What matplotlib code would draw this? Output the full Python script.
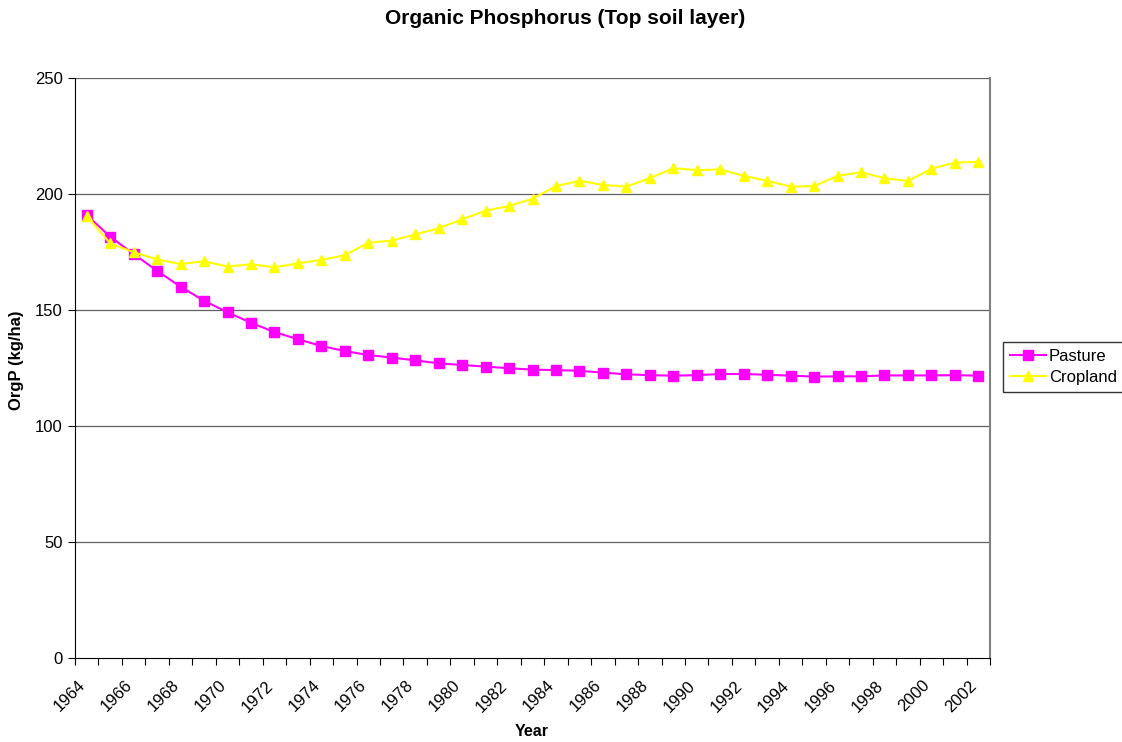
import matplotlib
matplotlib.use("Agg")
import matplotlib.pyplot as plt
import matplotlib.transforms as mtransforms
import numpy as np

years = list(range(1964, 2003))
pasture = [190.9, 181.6, 174.1, 166.9, 160.0, 154.0, 149.0, 144.5, 140.5, 137.4,
           134.5, 132.3, 130.6, 129.5, 128.3, 127.0, 126.3, 125.6, 124.9, 124.3,
           124.1, 123.8, 123.0, 122.3, 121.9, 121.7, 121.9, 122.4, 122.4, 122.1,
           121.7, 121.3, 121.4, 121.4, 121.8, 121.8, 121.8, 121.9, 121.7]
cropland = [190.5, 178.7, 174.9, 171.8, 169.8, 171.0, 168.7, 169.7, 168.4, 170.1,
            171.6, 173.6, 179.0, 179.9, 182.6, 185.2, 189.1, 192.8, 194.8, 198.0,
            203.4, 205.7, 203.9, 203.2, 206.8, 211.1, 210.3, 210.6, 207.8, 205.7,
            203.2, 203.4, 207.8, 209.4, 206.8, 205.6, 210.9, 213.5, 213.9]
yticks = [0, 50, 100, 150, 200, 250]

plt.rcParams['font.family'] = ['Liberation Sans', 'DejaVu Sans']

W, H = 1122, 742
fig = plt.figure(figsize=(W / 100, H / 100), dpi=100)
ax = fig.add_axes([75 / W, 1 - 658 / H, (990 - 75) / W, (658 - 78) / H])

x = np.arange(len(years))
ax.plot(x, pasture, color='#FF00FF', marker='s', markersize=6.8, lw=1.5,
        label='Pasture', zorder=3, clip_on=False)
ax.plot(x, cropland, color='#FFFF00', marker='^', markersize=7.8, lw=1.5,
        label='Cropland', zorder=3, clip_on=False)

ax.set_xlim(-0.5, len(years) - 0.5)
ax.set_ylim(0, 250)
ax.set_yticks(yticks)
ax.set_yticklabels([str(v) for v in yticks], fontsize=12)
for v in yticks[1:]:
    ax.axhline(v, color='#606060', lw=0.9, zorder=1)

ax.set_xticks(np.arange(-0.5, len(years)), minor=False)
ax.set_xticklabels([])
ax.set_xticks(x[::2], minor=True)
ax.set_xticklabels([str(y) for y in years[::2]], minor=True, fontsize=12,
                   rotation=45, ha='right', va='center', rotation_mode='anchor')
ax.tick_params(axis='x', which='minor', length=0, pad=18)
ax.tick_params(axis='x', which='major', length=5, direction='out', color='black')
ax.tick_params(axis='y', length=5, direction='out', color='black', pad=4)
off = mtransforms.ScaledTranslation(-4 / 100, 0, fig.dpi_scale_trans)
for lbl in ax.get_xticklabels(minor=True):
    lbl.set_transform(lbl.get_transform() + off)

ax.spines['top'].set_visible(False)
ax.spines['right'].set_color('#808080')
ax.spines['right'].set_linewidth(1.5)
ax.spines['left'].set_color('black')
ax.spines['bottom'].set_color('black')

fig.text(565 / W, 1 - 18 / H, 'Organic Phosphorus (Top soil layer)', ha='center',
         va='center', fontsize=15, fontweight='bold')
fig.text(532 / W, 1 - 731 / H, 'Year', ha='center', va='center', fontsize=11.5,
         fontweight='bold')
fig.text(17 / W, 1 - 360 / H, 'OrgP (kg/ha)', ha='center', va='center',
         fontsize=12, fontweight='bold', rotation=90)

leg = ax.legend(loc='center left', bbox_to_anchor=(1003 / W, 1 - 367 / H),
                bbox_transform=fig.transFigure, fontsize=12, frameon=True,
                fancybox=False, edgecolor='black', handlelength=2.2,
                borderpad=0.4, labelspacing=0.35, handletextpad=0.15,
                borderaxespad=0)
leg.get_frame().set_linewidth(1.0)

fig.savefig('out.png', dpi=100, facecolor='white')
